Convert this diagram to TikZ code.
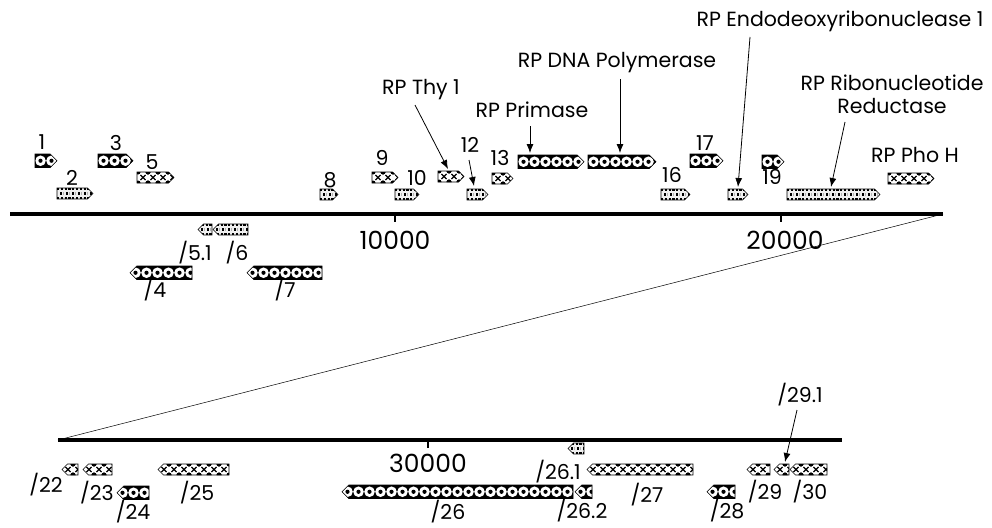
\documentclass[tikz,border=0pt]{standalone}
\usepackage{fontspec}
\setmainfont{Poppins}
\usetikzlibrary{arrows.meta}
\tikzset{
  lab/.style={font=\fontsize{20.5}{22}\selectfont, inner sep=0pt, anchor=base},
  axlab/.style={font=\fontsize{25}{27}\selectfont, inner sep=0pt, anchor=base},
  axisline/.style={line width=3.6pt},
  pointer/.style={line width=0.8pt, -{Latex[length=9pt,width=7pt]}},
  outline/.style={line width=0.6pt, draw=black},
}
% #1 name, #2 x1, #3 x2, #4 ytop, #5 r/l, #6 type (d=dots, c=cross, s=stripes)
\newcommand\gene[6]{%
  \if d#6\def\gh{13.5}\else\def\gh{11}\fi
  \pgfmathsetmacro\ga{#2}\pgfmathsetmacro\gb{#3}%
  \pgfmathsetmacro\gt{#4}\pgfmathsetmacro\gbt{#4+\gh}\pgfmathsetmacro\gm{#4+\gh/2}%
  \if r#5%
    \pgfmathsetmacro\gc{#3-\gh/2}%
    \def\gshape{(\ga,\gt) -- (\gc,\gt) -- (\gb,\gm) -- (\gc,\gbt) -- (\ga,\gbt) -- cycle}%
  \else
    \pgfmathsetmacro\gc{#2+\gh/2}%
    \def\gshape{(\gb,\gt) -- (\gc,\gt) -- (\ga,\gm) -- (\gc,\gbt) -- (\gb,\gbt) -- cycle}%
  \fi
  \coordinate (#1) at ({(#2+#3)/2},\gm);
  \if d#6%
    \fill[black] \gshape;
    \begin{scope}
      \clip \gshape;
      \pgfmathsetmacro\sa{#2+5.5}\pgfmathsetmacro\sb{#2+16.5}%
      \foreach \cx in {\sa,\sb,...,\gb} {
        \fill[white] (\cx,\gm) circle (5.3);
        \fill[black] (\cx,\gm) circle (2.1);
      }
    \end{scope}
  \fi
  \if c#6%
    \fill[white] \gshape;
    \begin{scope}
      \clip \gshape;
      \pgfmathsetmacro\sa{#2+6}\pgfmathsetmacro\sb{#2+16}%
      \foreach \cx in {\sa,\sb,...,\gb} {
        \draw[line width=1.1pt] (\cx-2.6,\gm-2.6) -- (\cx+2.6,\gm+2.6)
                                (\cx-2.6,\gm+2.6) -- (\cx+2.6,\gm-2.6);
        \fill[black] (\cx+5,\gt) circle (2.5) (\cx+5,\gbt) circle (2.5)
                     (\cx-5,\gt) circle (2.5) (\cx-5,\gbt) circle (2.5);
      }
    \end{scope}
  \fi
  \if s#6%
    \fill[gray!12] \gshape;
    \begin{scope}
      \clip \gshape;
      \draw[line width=1.1pt, dash pattern=on 2.2pt off 1.6pt] (\ga,\gt+1) -- (\gb,\gt+1) (\ga,\gbt-1) -- (\gb,\gbt-1);
      \pgfmathsetmacro\sa{#2+4}\pgfmathsetmacro\sb{#2+10}%
      \foreach \cx in {\sa,\sb,...,\gb} {
        \fill[black] (\cx-1.1,\gm-1.8) rectangle (\cx+1.1,\gm+1.8);
        \fill[gray!60] (\cx+2,\gm-1.5) rectangle (\cx+3.2,\gm+1.5);
      }
    \end{scope}
  \fi
  \draw[outline] \gshape;
}
\begin{document}
\begin{tikzpicture}[x=1pt,y=-1pt]
\useasboundingbox (0,0) rectangle (992,527);
\fill[white] (0,0) rectangle (992,527);

% axes
\coordinate (topstart) at (10,214);
\coordinate (topend) at (943,214);
\coordinate (botstart) at (58,440);
\coordinate (botend) at (842,440);
\draw[axisline] (topstart) -- (topend);
\draw[axisline] (botstart) -- (botend);
\draw[line width=0.5pt] (topend) -- (botstart);
\draw[line width=2.5pt] (395,214) -- (395,222);
\draw[line width=2.5pt] (781,214) -- (781,222);
\draw[line width=2.5pt] (428,440) -- (428,448);
\node[axlab] (n10000) at (395,249) {10000};
\node[axlab] (n20000) at (785,249) {20000};
\node[axlab] (n30000) at (428,472) {30000};

% top genes
\gene{g1}{35}{57}{154}{r}{d}
\gene{g2}{57}{93}{188}{r}{s}
\gene{g3}{98}{133}{154}{r}{d}
\gene{g5}{137}{174}{172}{r}{c}
\gene{g8}{320}{338}{189}{r}{s}
\gene{g9}{372}{398}{172}{r}{c}
\gene{g10}{395}{419}{189}{r}{s}
\gene{gthy}{438}{464}{171}{r}{c}
\gene{g12}{467}{488}{189}{r}{s}
\gene{g13}{492}{513}{173}{r}{c}
\gene{gprim}{518}{584}{155}{r}{d}
\gene{gpol}{588}{656}{155}{r}{d}
\gene{g16}{661}{690}{189}{r}{s}
\gene{g17}{690}{723}{154}{r}{d}
\gene{gendo}{728}{748}{189}{r}{s}
\gene{g19}{762}{784}{155}{r}{d}
\gene{gribo}{787}{880}{189}{r}{s}
\gene{gpho}{888}{934}{173}{r}{c}
\gene{g51}{198}{212}{224}{l}{s}
\gene{g6}{213}{248}{224}{l}{s}
\gene{g4}{130}{192}{266}{l}{d}
\gene{g7}{247}{322}{266}{l}{d}

% bottom genes
\gene{g22}{62}{78}{464}{l}{c}
\gene{g23}{83}{112}{464}{l}{c}
\gene{g24}{117}{149}{486}{l}{d}
\gene{g25}{158}{229}{464}{l}{c}
\gene{g26}{342}{573}{485}{l}{d}
\gene{g262}{575}{592}{485}{l}{d}
\gene{g261}{568}{584}{443}{l}{s}
\gene{g27}{587}{693}{464}{l}{c}
\gene{g28}{707}{735}{485}{l}{d}
\gene{g29}{747}{770}{464}{l}{c}
\gene{g291}{774}{789}{464}{l}{c}
\gene{g30}{790}{827}{464}{l}{c}

% top labels
\node[lab] (l1) at (42,149) {1};
\node[lab] (l2) at (72,185) {2};
\node[lab] (l3) at (116,150) {3};
\node[lab] (l5) at (152,169) {5};
\node[lab] (l8) at (330,187) {8};
\node[lab] (l9) at (382,165) {9};
\node[lab] (l10) at (417,185) {10};
\node[lab] (lthy) at (421,94) {RP Thy 1};
\node[lab] (l12) at (470,152) {12};
\node[lab] (l13) at (500,165) {13};
\node[lab] (lprim) at (532,117) {RP Primase};
\node[lab] (lpol) at (617,67) {RP DNA Polymerase};
\node[lab] (l16) at (672,182) {16};
\node[lab] (l17) at (705,150) {17};
\node[lab] (lendo) at (840,27) {RP Endodeoxyribonuclease 1};
\node[lab] (l19) at (772,184) {19};
\node[lab] (lribo) at (892,90) {RP Ribonucleotide};
\node[lab] (lribo2) at (892,113) {Reductase};
\node[lab] (lpho) at (915,162) {RP Pho H};
\node[lab] (l51) at (195,260) {/5.1};
\node[lab] (l6) at (237,260) {/6};
\node[lab] (l4) at (155,297) {/4};
\node[lab] (l7) at (285,297) {/7};

% bottom labels
\node[lab] (l22) at (46,492) {/22};
\node[lab] (l23) at (97,500) {/23};
\node[lab] (l24) at (133,519) {/24};
\node[lab] (l25) at (197,500) {/25};
\node[lab] (l26) at (448,519) {/26};
\node[lab] (l261) at (558,479) {/26.1};
\node[lab] (l262) at (582,518) {/26.2};
\node[lab] (l27) at (647,502) {/27};
\node[lab] (l28) at (727,518) {/28};
\node[lab] (l29) at (765,499) {/29};
\node[lab] (l291) at (800,402) {/29.1};
\node[lab] (l30) at (810,499) {/30};

% pointer arrows
\coordinate (athy0) at (415,105);   \coordinate (athy1) at (448,169);
\coordinate (a12a) at (469,160);    \coordinate (a12b) at (474,186);
\coordinate (aprim0) at (530,126);  \coordinate (aprim1) at (530,153);
\coordinate (apol0) at (620,79);    \coordinate (apol1) at (620,153);
\coordinate (aendo0) at (750,37);   \coordinate (aendo1) at (738,187);
\coordinate (aribo0) at (845,122);  \coordinate (aribo1) at (831,187);
\coordinate (a291a) at (797,410);   \coordinate (a291b) at (785,462);
\draw[pointer] (athy0) -- (athy1);
\draw[pointer] (a12a) -- (a12b);
\draw[pointer] (aprim0) -- (aprim1);
\draw[pointer] (apol0) -- (apol1);
\draw[pointer] (aendo0) -- (aendo1);
\draw[pointer] (aribo0) -- (aribo1);
\draw[pointer] (a291a) -- (a291b);
\end{tikzpicture}
\end{document}
